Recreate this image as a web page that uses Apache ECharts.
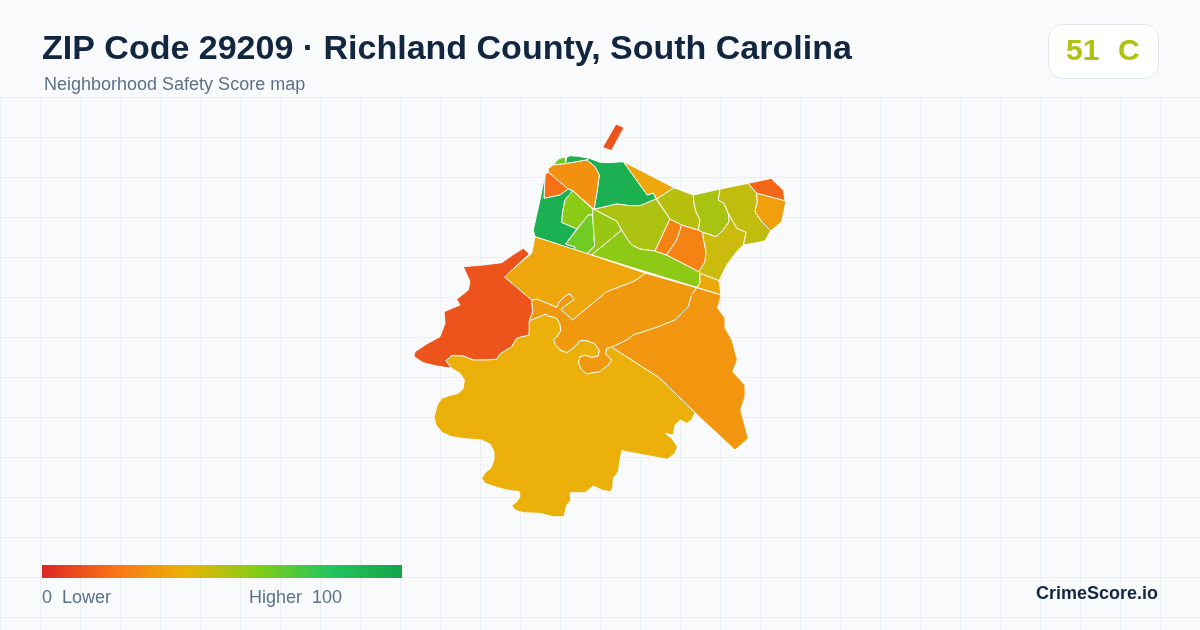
<!DOCTYPE html>
<html>
<head>
<meta charset="utf-8">
<style>html,body{margin:0;padding:0;background:#f8fafc}#chart{width:1200px;height:630px}</style>
<script src="https://cdn.jsdelivr.net/npm/echarts@6/dist/echarts.min.js"></script>
</head>
<body>
<div id="chart"></div>
<script>
// neighborhood scores
const regionNames = ['Island', 'North Sliver', 'North Cap', 'North Green', 'North Orange', 'Corner', 'West Green',
  'Lime West', 'Lime Mid', 'Lime South', 'Central Olive', 'Long Band', 'Orange West', 'Orange East', 'Ridge',
  'Olive A', 'Olive B', 'Olive C', 'Olive D', 'Northeast Tip', 'Northeast', 'Junction', 'Northwest Wedge',
  'Far West', 'Middle Belt', 'East Side', 'South']
const regionScores = [12, 64, 92, 92, 29, 19, 92, 59, 64, 56, 52, 58, 25, 25, 36, 50, 53, 48, 46, 17, 34, 37, 36, 12, 32, 31, 39]

// traced outlines, one per neighborhood
const island = [[616,124],[624,127.5],[611.5,150.5],[602.5,147.5]]
const northSliver = [[553.3,165],[558.3,159],[565,156.7],[565.7,163.7]]
const northCap = [[565.7,163.7],[566.7,157.3],[570,155.7],[578.3,156.3],[589.3,158.3],[586.7,160]]
const northGreen = [[589.3,158.3],[600,162.3],[608.3,162.7],[623.3,161.7],[647.3,195],[653.3,193],[656,199],[640,205.7],[630,205.7],[616.7,204],[594,209.3],[597.3,190],[599.3,175],[595,166.7],[586.7,160]]
const northOrange = [[548.3,168.3],[553.3,165],[565.7,163.7],[586.7,160],[595,166.7],[599.3,175],[597.3,190],[594,209.3],[572.7,190.7],[568.3,189],[548.3,172.3]]
const corner = [[545,174.3],[548.3,172.3],[568.3,189],[560,195],[544,198.3]]
const westGreen = [[545,174.3],[544,198.3],[560,195],[568.3,189],[572.7,190.7],[565,200],[562.7,211.7],[561.7,222.3],[576.7,229],[565.7,244],[575,247],[574.5,250],[535,236.7],[533.3,230],[540,200]]
const limeWest = [[572.7,190.7],[592.7,209.3],[592.7,215],[588.3,215],[576.7,229],[561.7,222.3],[562.7,211.7],[565,200]]
const limeMid = [[565.7,244],[588.3,215],[592.7,215],[594.7,246],[586.7,254],[574.5,250],[575,247]]
const limeSouth = [[594,209.3],[607,216],[616.7,221],[621.7,230],[591.7,255],[586.7,254],[594.7,246],[592.7,215],[592.7,209.3]]
const centralOlive = [[594,209.3],[616.7,204],[630,205.7],[640,205.7],[656,199],[670,219],[655,251],[640,249],[631.7,245],[626.7,238.3],[621.7,230],[616.7,221],[607,216]]
const longBand = [[591.7,255],[696.7,287.3],[700,283.3],[700,273.3],[699,271.7],[666.7,255],[655,251],[640,249],[631.7,245],[626.7,238.3],[621.7,230]]
const orangeWest = [[670,219],[681.7,225],[676.7,240],[666.7,255],[655,251]]
const orangeEast = [[681.7,225],[698.3,230],[702.7,232.3],[703.3,238.3],[706,251.7],[705,261.7],[699,271.7],[666.7,255],[676.7,240]]
const ridge = [[623.3,161.7],[674,187.7],[656.7,199],[656,199],[653.3,193],[647.3,195]]
const oliveA = [[674,187.7],[693.3,195],[694,203.3],[696,211.7],[700,220],[698.3,230],[681.7,225],[670,219],[656.7,199]]
const oliveB = [[693.3,195],[720,189],[718.3,200],[724,203.3],[728.3,213.3],[729,221.7],[723.3,230],[716,236.7],[702.7,232.3],[698.3,230],[700,220],[696,211.7],[694,203.3]]
const oliveC = [[720,189],[748.3,183.3],[756.7,193.3],[757.3,202.3],[755,211.7],[761.7,221.7],[770.7,230.7],[765,241],[753.3,243.3],[743.3,245],[746,232.3],[736.7,228.3],[728.3,213.3],[724,203.3],[718.3,200]]
const oliveD = [[702.7,232.3],[716,236.7],[723.3,230],[729,221.7],[728.3,213.3],[736.7,228.3],[746,232.3],[743.3,245],[736.7,251.7],[726.7,265],[719,280.7],[700,273.3],[699,271.7],[705,261.7],[706,251.7],[703.3,238.3]]
const northeastTip = [[748.3,183.3],[771.7,178.3],[773.3,180.7],[783.3,190],[785,201],[756.7,193.3]]
const northeast = [[756.7,193.3],[786,201],[781.7,221.7],[770.7,230.7],[761.7,221.7],[755,211.7],[757.3,202.3]]
const junction = [[700,273.3],[719,280.7],[721,295],[696.7,287.3],[700,283.3]]
const northwestWedge = [[535,236.7],[590,254.5],[645.7,273.3],[633.3,281.7],[606.7,291.7],[572.7,320],[560.7,309.3],[574,299.3],[570,294],[566.7,295],[559.3,301.7],[556.7,307.3],[537.3,299.3],[531.7,300],[504.7,277.3],[510,271.7],[531.7,253.3]]
const farWest = [[463.3,266.7],[470,281.7],[468.3,290],[456.7,299.3],[460,305],[444,311.7],[445,323.3],[440,336.7],[426.7,344],[415,351.7],[414,356.7],[423.3,362.7],[436.7,366],[451.7,368.3],[446,360.7],[451.7,355.7],[463.3,356],[473.3,360],[485,360],[496.7,359.3],[500,354],[511.7,346.7],[516.7,338.3],[529.3,335],[529.3,321],[532.7,311.7],[531.7,300],[504.7,277.3],[510,271.7],[529.3,254],[523.3,248.3],[513,254.7],[501.7,262.7],[483,265]]
const middleBelt = [[531.7,300],[537.3,299.3],[556.7,307.3],[559.3,301.7],[566.7,295],[570,294],[574,299.3],[560.7,309.3],[572.7,320],[606.7,291.7],[633.3,281.7],[645.7,273.3],[696.7,287.7],[691.7,295],[688.3,306.7],[675,320],[656.7,327.3],[633.3,335],[626.7,340],[611.7,347.3],[606.7,348.3],[605.7,354],[611.7,360],[608.3,365],[600,371.7],[586.7,374],[581.7,370],[578.3,362.7],[580,356.7],[585,355],[591.7,357.3],[598.3,356],[599,350],[595,344],[586.7,340.7],[580,340.7],[573.3,348.3],[566.7,352.7],[560,350],[555,344],[553.3,339.3],[556.7,337.3],[560.7,330],[560,325],[556.7,318.3],[548.3,316],[546,314],[529.3,321],[532.7,311.7]]
const eastSide = [[696.7,287.7],[721,295],[719,303],[717.5,308],[725,318],[725,328],[732,340],[737.3,360],[732.7,371.7],[745,385],[745,396.7],[740.7,410],[748.3,438.3],[735,450],[695,412.7],[660,378.3],[611.7,347.3],[626.7,340],[633.3,335],[656.7,327.3],[675,320],[688.3,306.7],[691.7,295]]
const south = [[446,360.7],[451.7,355.7],[463.3,356],[473.3,360],[485,360],[496.7,359.3],[500,354],[511.7,346.7],[516.7,338.3],[529.3,335],[529.3,321],[546,314],[548.3,316],[556.7,318.3],[560,325],[560.7,330],[556.7,337.3],[553.3,339.3],[555,344],[560,350],[566.7,352.7],[573.3,348.3],[580,340.7],[586.7,340.7],[595,344],[599,350],[598.3,356],[591.7,357.3],[585,355],[580,356.7],[578.3,362.7],[581.7,370],[586.7,374],[600,371.7],[608.3,365],[611.7,360],[605.7,354],[606.7,348.3],[611.7,347.3],[660,378.3],[695,412.7],[691.7,420],[686.7,423.3],[680,420],[675,425],[673.3,435],[665,433.3],[671.7,438.3],[677.3,446.7],[675,453.3],[667.3,459.3],[621.7,450.7],[620,460],[618.3,471.7],[613.3,478.3],[612.7,488.3],[610,491.7],[601.7,490],[593.3,486],[585,492.7],[570,492.7],[570.7,500.7],[566.7,505],[564,516.7],[553.3,516.7],[540,513.3],[523.3,512.7],[515,510],[511.7,505.7],[516.7,501.7],[520,496.7],[519.3,491.7],[506.7,490],[495,486.7],[485,483.3],[481.7,478.3],[485,472.7],[490.7,468.3],[494,460],[494,451.7],[490,444],[481.7,440],[465,438.7],[451.7,436.7],[441.7,432.3],[436,425],[434,417.3],[437.3,405],[441.7,398.3],[448.3,396],[458.3,393.3],[463.3,388.3],[464.3,380],[460,373.3],[451.7,368.3]]

const regionOutlines = [island, northSliver, northCap, northGreen, northOrange, corner, westGreen, limeWest, limeMid,
  limeSouth, centralOlive, longBand, orangeWest, orangeEast, ridge, oliveA, oliveB, oliveC, oliveD, northeastTip,
  northeast, junction, northwestWedge, farWest, middleBelt, eastSide, south]

const scaleColors = ['#dc2626', '#f97316', '#eab308', '#84cc16', '#22c55e', '#16a34a']

const geoJson = {
  type: 'FeatureCollection',
  features: regionNames.map((name, i) => ({
    type: 'Feature',
    properties: { name },
    geometry: { type: 'Polygon', coordinates: [regionOutlines[i].concat([regionOutlines[i][0]])] }
  }))
}
echarts.registerMap('zip29209', geoJson)

const chart = echarts.init(document.getElementById('chart'))
const sansFont = '"Liberation Sans", Arial, sans-serif'
chart.setOption({
  animation: false,
  backgroundColor: '#f8fafc',
  title: [
    { text: 'ZIP Code 29209 · Richland County, South Carolina', left: 42, top: 33, padding: 0,
      textStyle: { fontFamily: sansFont, fontSize: 34, fontWeight: 'bold', color: '#12263f' } },
    { text: 'Neighborhood Safety Score map', left: 44, top: 76, padding: 0,
      textStyle: { fontFamily: sansFont, fontSize: 18, fontWeight: 'normal', color: '#5b7089' } }
  ],
  // background grid
  grid: { left: 0, top: 97, width: 1200, height: 533 },
  xAxis: { type: 'value', min: 0, max: 1200, interval: 40, axisLine: { show: false }, axisTick: { show: false },
    axisLabel: { show: false }, splitLine: { lineStyle: { color: '#e8eff3', width: 1 } } },
  yAxis: { type: 'value', inverse: true, min: 0, max: 533, interval: 40, axisLine: { show: false }, axisTick: { show: false },
    axisLabel: { show: false }, splitLine: { lineStyle: { color: '#e8eff3', width: 1 } } },
  visualMap: {
    type: 'continuous', show: false, seriesIndex: 0, min: 0, max: 100,
    inRange: { color: scaleColors }
  },
  series: [{
    type: 'map',
    map: 'zip29209',
    projection: { project: p => p, unproject: p => p },
    boundingCoords: [[0, 0], [1200, 630]],
    left: 0, top: 0, width: 1200, height: 630,
    roam: false,
    silent: true,
    label: { show: false },
    itemStyle: { borderColor: '#ffffff', borderWidth: 0.9 },
    emphasis: { disabled: true },
    select: { disabled: true },
    data: regionNames.map((name, i) => ({ name, value: regionScores[i] }))
  }],
  graphic: { elements: [
    { type: 'rect', z: 100, shape: { x: 1048.5, y: 24.5, width: 110, height: 54, r: 14 }, style: { fill: '#ffffff', stroke: '#e2e8f0', lineWidth: 1 } },
    { type: 'text', z: 101, x: 1066, y: 52, style: { text: '51', font: 'bold 30px ' + sansFont, fill: '#afc111', textVerticalAlign: 'middle' } },
    { type: 'text', z: 101, x: 1118, y: 52, style: { text: 'C', font: 'bold 30px ' + sansFont, fill: '#afc111', textVerticalAlign: 'middle' } },
    // score scale
    { type: 'rect', z: 100, shape: { x: 42, y: 565, width: 360, height: 13 }, style: {
      fill: new echarts.graphic.LinearGradient(0, 0, 1, 0, scaleColors.map((color, i) => ({ offset: i / (scaleColors.length - 1), color })))
    } },
    { type: 'text', z: 101, x: 42, y: 598, style: { text: '0  Lower', font: '18px ' + sansFont, fill: '#5b7089', textVerticalAlign: 'middle' } },
    { type: 'text', z: 101, x: 249, y: 598, style: { text: 'Higher  100', font: '18px ' + sansFont, fill: '#5b7089', textVerticalAlign: 'middle' } },
    { type: 'text', z: 101, x: 1158, y: 594, style: { text: 'CrimeScore.io', font: 'bold 18px ' + sansFont, fill: '#12263f', textAlign: 'right', textVerticalAlign: 'middle' } }
  ] }
})
</script>
</body>
</html>
